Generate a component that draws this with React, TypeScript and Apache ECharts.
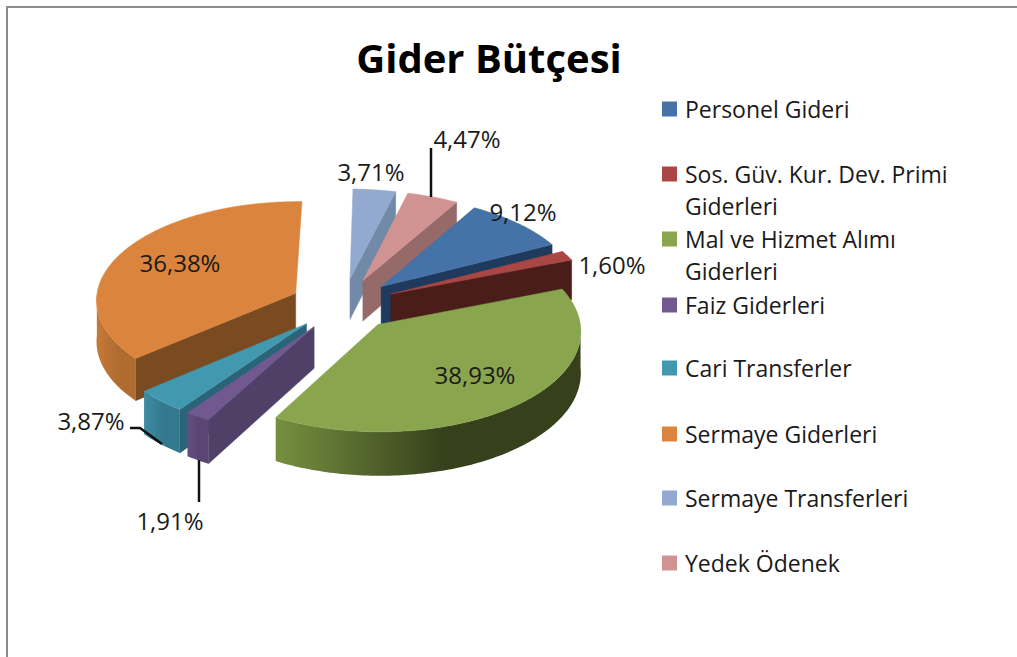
import React, { useEffect, useRef } from "react";
import * as echarts from "echarts";

const categories = [
  "Personel Gideri",
  "Sos. Güv. Kur. Dev. Primi Giderleri",
  "Mal ve Hizmet Alımı Giderleri",
  "Faiz Giderleri",
  "Cari Transferler",
  "Sermaye Giderleri",
  "Sermaye Transferleri",
  "Yedek Ödenek",
];
const shares = [9.12, 1.6, 38.93, 1.91, 3.87, 36.38, 3.71, 4.47];
const legendLines = [
  ["Personel Gideri"],
  ["Sos. Güv. Kur. Dev. Primi", "Giderleri"],
  ["Mal ve Hizmet Alımı", "Giderleri"],
  ["Faiz Giderleri"],
  ["Cari Transferler"],
  ["Sermaye Giderleri"],
  ["Sermaye Transferleri"],
  ["Yedek Ödenek"],
];
const topColors = ["#4572a7", "#aa4643", "#89a54e", "#71588f", "#4198af", "#db843d", "#93a9cf", "#d19392"];
const wallColors = ["#1f3a5c", "#4a1c1a", "#3f4c22", "#503f67", "#2a6478", "#7a4a20", "#7389a8", "#966a69"];
const rimFrom = ["#3a618f", "#8f3b38", "#76903f", "#644e80", "#3f8ca3", "#c57a38", "#8095b8", "#b88281"];
const rimTo = ["#2d4d73", "#6f2d2b", "#36411c", "#5a4673", "#33788c", "#b06c30", "#7389a8", "#a07170"];
const drawRank = [3, 4, 8, 7, 6, 5, 1, 2];
const labelAt = [
  [523, 211], [612, 264], [475, 374], [170, 520], [91, 420], [180, 262], [371, 171], [467, 138],
];
const legendCentres = [109, 174, 239, 305, 368, 434, 498, 563];

const START_ANGLE = 30.5;
const CX = 343;
const CY = 304.5;
const RX = 200;
const RY = 99;
const PERSPECTIVE = 0.06;
const EXPLODE = 0.264;
const DEPTH = 41;
const FONT = '"Open Sans", sans-serif';

const total = shares.reduce((a, b) => a + b, 0);
const project = (X: number, Y: number, Z: number): number[] => {
  const w = 1 + PERSPECTIVE * Y;
  return [CX + X * RX * w, CY + Y * RY * w - Z * w];
};
const rad = (d: number) => (d * Math.PI) / 180;

function sliceShapes(index: number, value: number, color: string) {
  const before = shares.slice(0, index).reduce((a, b) => a + b, 0);
  const a0 = START_ANGLE + (before / total) * 360;
  const a1 = a0 + (value / total) * 360;
  const mid = rad((a0 + a1) / 2);
  const ox = Math.sin(mid) * EXPLODE;
  const oy = -Math.cos(mid) * EXPLODE;
  const rim = (deg: number) => [ox + Math.sin(rad(deg)), oy - Math.cos(rad(deg))];
  const children: any[] = [];
  const poly = (points: number[][], fill: any, stroke?: string) => ({
    type: "polygon",
    shape: { points },
    style: { fill, stroke: stroke ?? "none", lineWidth: stroke ? 0.5 : 0 },
  });
  const wall = (deg: number) => {
    const [x, y] = rim(deg);
    return [project(ox, oy, 0), project(x, y, 0), project(x, y, -DEPTH), project(ox, oy, -DEPTH)];
  };
  if (Math.sin(rad(a0)) < -0.02) children.push(poly(wall(a0), wallColors[index], wallColors[index]));
  if (Math.sin(rad(a1)) > 0.05) children.push(poly(wall(a1), wallColors[index], wallColors[index]));

  const steps = Math.max(4, Math.ceil(a1 - a0));
  const arc: number[][] = [];
  for (let i = 0; i <= steps; i++) arc.push(rim(a0 + ((a1 - a0) * i) / steps));

  const front = arc.filter((p) => p[1] >= oy);
  if (front.length > 1) {
    const upper = front.map((p) => project(p[0], p[1], 0));
    const lower = front.map((p) => project(p[0], p[1], -DEPTH)).reverse();
    const fill = new echarts.graphic.LinearGradient(
      // the rim darkens from the viewer's left to the right
      0, 0, 1, 0,
      [
        { offset: 0, color: rimFrom[index] },
        { offset: 0.55, color: rimTo[index] },
        { offset: 1, color: rimTo[index] },
      ],
    );
    children.push(poly([...upper, ...lower], fill));
  }
  const top = [project(ox, oy, 0), ...arc.map((p) => project(p[0], p[1], 0))];
  children.push(poly(top, color, color));
  children.push({
    type: "text",
    style: {
      text: value.toFixed(2).replace(".", ",") + "%",
      x: labelAt[index][0],
      y: labelAt[index][1],
      align: "center",
      verticalAlign: "middle",
      fill: "#1a1a1a",
      font: `24px ${FONT}`,
    },
  });
  return { type: "group", children };
}

export default function App() {
  const ref = useRef<HTMLDivElement>(null);
  useEffect(() => {
    const chart = echarts.init(ref.current!, undefined, { renderer: "svg" });
    chart.setOption({
      animation: false,
      backgroundColor: "#ffffff",
      color: topColors,
      title: {
        text: "Gider Bütçesi",
        left: 484,
        top: 32,
        textAlign: "center",
        textStyle: { fontFamily: FONT, fontWeight: "bold", fontSize: 40, color: "#000" },
      },
      legend: categories.map((name, i) => {
        const lines = legendLines[i];
        return {
          data: [name],
          left: 662,
          top: legendCentres[i] - (lines.length > 1 ? 48 : 16),
          orient: "vertical",
          icon: "rect",
          itemWidth: 15,
          itemHeight: 15,
          itemGap: 0,
          padding: 0,
          selectedMode: false,
          formatter: () => (lines.length > 1 ? "\n" + lines.join("\n") : lines[0]),
          textStyle: { fontFamily: FONT, fontSize: 23, lineHeight: 32, color: "#1a1a1a", padding: [0, 0, 0, 3] },
        };
      }),
      graphic: [
        { type: "rect", shape: { x: 6, y: 6, width: 2, height: 651 }, style: { fill: "#8c8c8c" } },
        { type: "rect", shape: { x: 6, y: 6, width: 1011, height: 2 }, style: { fill: "#8c8c8c" } },
        { type: "polyline", z: 50, shape: { points: [[431, 148], [431, 197]] }, style: { stroke: "#111", lineWidth: 2.5, fill: "none" } },
        { type: "polyline", z: 50, shape: { points: [[130, 428], [140, 428], [162, 444]] }, style: { stroke: "#111", lineWidth: 2.5, fill: "none" } },
        { type: "polyline", z: 50, shape: { points: [[199, 460], [199, 502]] }, style: { stroke: "#111", lineWidth: 2.5, fill: "none" } },
      ],
      series: categories.map((name, i) => ({
        type: "custom",
        name,
        coordinateSystem: "none",
        z: 2 + drawRank[i],
        itemStyle: { color: topColors[i] },
        data: [[shares[i]]],
        renderItem: (_p: any, api: any) => sliceShapes(i, api.value(0), topColors[i]),
      })),
    });
    return () => chart.dispose();
  }, []);
  return <div ref={ref} style={{ position: "absolute", left: 0, top: 0, width: 1017, height: 657 }} />;
}
